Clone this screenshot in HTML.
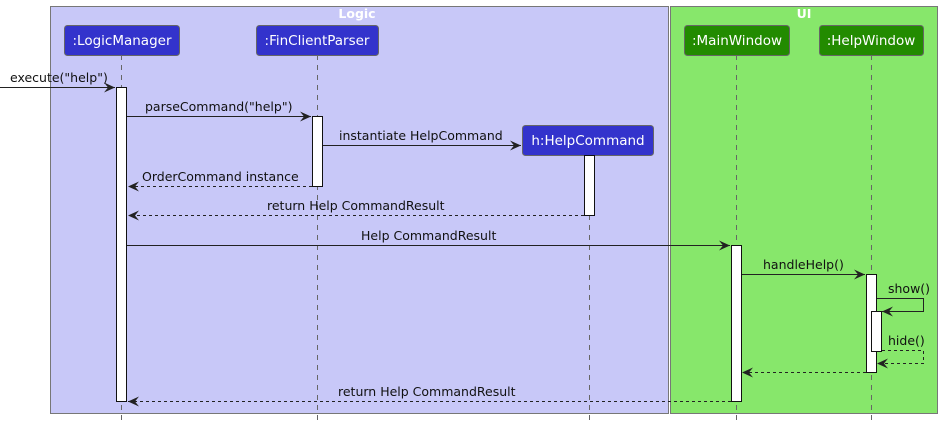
<!DOCTYPE html>
<html><head><style>body{margin:0;background:#fff}svg{display:block}text{font-family:"DejaVu Sans","Liberation Sans",sans-serif;font-size:12.5px;fill:#111}</style></head><body>
<svg width="942" height="425" viewBox="0 0 942 425" xmlns="http://www.w3.org/2000/svg">
<defs>
<marker id="a" markerWidth="12" markerHeight="10" refX="11" refY="5" orient="auto" markerUnits="userSpaceOnUse"><path d="M0,0 L11,5 L0,10 L4,5 Z" fill="#222"/></marker>
</defs>
<rect x="50.5" y="6.5" width="618" height="407" fill="#C8C8F8" stroke="#777"/>
<rect x="670.5" y="6.5" width="267" height="407" fill="#87E76B" stroke="#777"/>
<text x="357" y="18" text-anchor="middle" style="font-weight:bold;fill:#fff;font-size:12.5px">Logic</text>
<text x="804" y="18" text-anchor="middle" style="font-weight:bold;fill:#fff;font-size:12.5px">UI</text>
<g stroke="#666" stroke-dasharray="5,5">
<line x1="121.5" y1="55" x2="121.5" y2="420"/><line x1="317.5" y1="55" x2="317.5" y2="420"/>
<line x1="589.5" y1="155" x2="589.5" y2="420"/><line x1="736.5" y1="55" x2="736.5" y2="420"/><line x1="871.5" y1="55" x2="871.5" y2="420"/>
</g>
<g stroke="#666" rx="3">
<rect x="64.5" y="25.5" width="115" height="30" rx="3" fill="#3333CC"/>
<rect x="256.5" y="25.5" width="122" height="30" rx="3" fill="#3333CC"/>
<rect x="522.5" y="125.5" width="131" height="30" rx="3" fill="#3333CC"/>
<rect x="684.5" y="25.5" width="105" height="30" rx="3" fill="#228B00"/>
<rect x="819.5" y="25.5" width="104" height="30" rx="3" fill="#228B00"/>
</g>
<g style="fill:#fff" text-anchor="middle">
<text x="122" y="45" style="fill:#fff;font-size:13.5px">:LogicManager</text>
<text x="317" y="45" style="fill:#fff;font-size:13.5px">:FinClientParser</text>
<text x="588" y="145" style="fill:#fff;font-size:13.5px">h:HelpCommand</text>
<text x="737" y="45" style="fill:#fff;font-size:13.5px">:MainWindow</text>
<text x="871" y="45" style="fill:#fff;font-size:13.5px">:HelpWindow</text>
</g>
<g fill="#fff" stroke="#111">
<rect x="116.5" y="87.5" width="10" height="314"/>
<rect x="312.5" y="116.5" width="10" height="70"/>
<rect x="584.5" y="155.5" width="10" height="60"/>
<rect x="731.5" y="245.5" width="10" height="156"/>
<rect x="866.5" y="274.5" width="10" height="98"/>
<rect x="871.5" y="311.5" width="10" height="40"/>
</g>
<g stroke="#222" fill="none" marker-end="url(#a)">
<line x1="0" y1="87.5" x2="115" y2="87.5"/>
<line x1="127" y1="116.5" x2="311" y2="116.5"/>
<line x1="323" y1="145.5" x2="521" y2="145.5"/>
<line x1="312" y1="186.5" x2="128" y2="186.5" stroke-dasharray="3,3"/>
<line x1="584" y1="215.5" x2="128" y2="215.5" stroke-dasharray="3,3"/>
<line x1="127" y1="245.5" x2="730" y2="245.5"/>
<line x1="742" y1="274.5" x2="865" y2="274.5"/>
<polyline points="877,298.5 923.5,298.5 923.5,311.5 882,311.5"/>
<polyline points="882,350.5 923.5,350.5 923.5,363.5 877,363.5" stroke-dasharray="3,3"/>
<line x1="866" y1="372.5" x2="742" y2="372.5" stroke-dasharray="3,3"/>
<line x1="731" y1="401.5" x2="128" y2="401.5" stroke-dasharray="3,3"/>
</g>
<text x="10" y="82">execute("help")</text>
<text x="145" y="111">parseCommand("help")</text>
<text x="339" y="140">instantiate HelpCommand</text>
<text x="142" y="181">OrderCommand instance</text>
<text x="267" y="210">return Help CommandResult</text>
<text x="361" y="240">Help CommandResult</text>
<text x="763" y="269">handleHelp()</text>
<text x="888" y="293">show()</text>
<text x="888" y="345">hide()</text>
<text x="338" y="396">return Help CommandResult</text>
</svg>
</body></html>
